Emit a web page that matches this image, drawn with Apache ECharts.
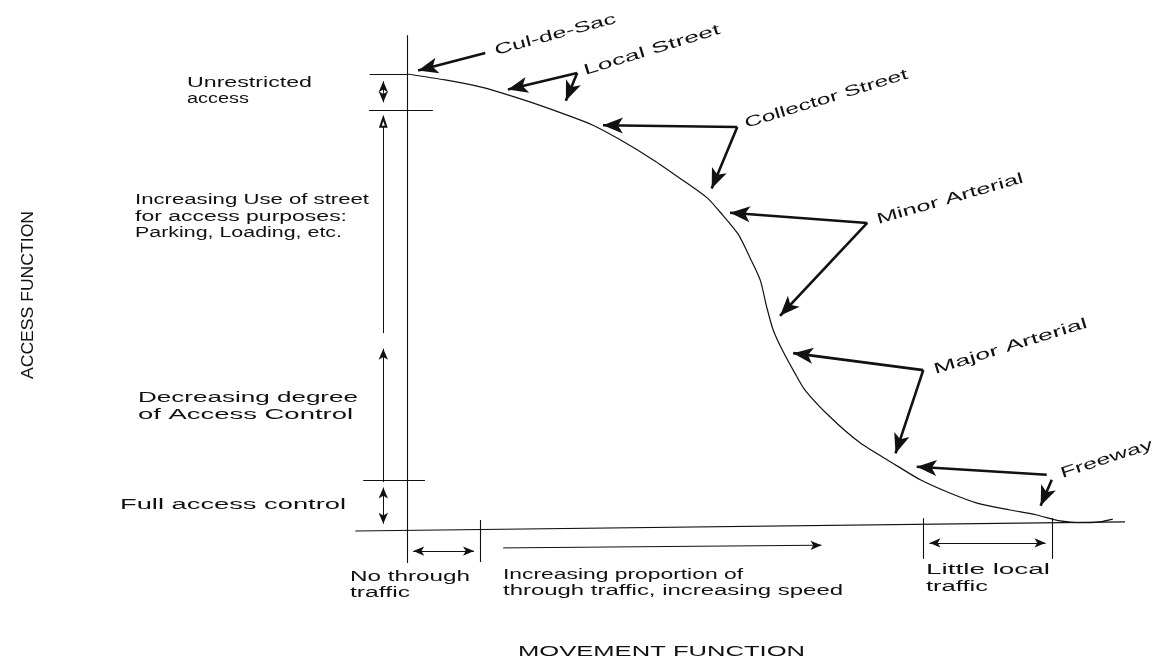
<!DOCTYPE html>
<html>
<head>
<meta charset="utf-8">
<script src="https://cdn.jsdelivr.net/npm/echarts@6/dist/echarts.min.js"></script>
<style>
  html, body { margin: 0; background: #fff; }
  #chart { width: 1160px; height: 663px; }
</style>
</head>
<body>
<div id="chart"></div>
<script>
// access function (y, %) against movement function (x, %)
var movement = [0, 5.3, 10.2, 12.7, 17.1, 22.3, 25.9, 29.7, 34.3, 38.0, 41.8, 43.6, 46.1, 47.8, 49.2, 50.1,
  51.0, 52.4, 54.0, 55.4, 58.9, 63.1, 67.6, 71.5, 75.6, 79.4, 84.0, 87.7, 91.0, 93.7, 96.5, 98.3]
var access = [100, 98.7, 97.2, 96.1, 93.9, 91.0, 88.8, 85.6, 81.2, 77.2, 72.9, 69.8, 65.0, 59.7, 54.9, 49.0,
  44.0, 39.2, 34.6, 30.9, 25.0, 19.3, 14.9, 11.2, 8.3, 6.1, 4.6, 3.5, 2.2, 1.8, 2.0, 2.6]

var roadClasses = ['Cul-de-Sac', 'Local Street', 'Collector Street', 'Minor Arterial', 'Major Arterial', 'Freeway']
var accessBands = ['Unrestricted\naccess', 'Increasing Use of street\nfor access purposes:\nParking, Loading, etc.',
  'Decreasing degree\nof Access Control', 'Full access control']
var movementBands = ['No through\ntraffic', 'Increasing proportion of\nthrough traffic, increasing speed', 'Little local\ntraffic']
var axisNames = ['MOVEMENT FUNCTION', 'ACCESS FUNCTION']

// layout: grid maps x -10..100 and y -10..110
var grid = {left: 335.2, right: 35, top: 28.3, bottom: 86.3}
var sx = (1160 - grid.left - grid.right) / 110
var sy = (663 - grid.top - grid.bottom) / 120

// pointer lines from each label to the curve (one entry per road class)
var pointers = [
  [[[10.9, 104.6], [0.2, 100.2]]],
  [[[23.7, 100.2], [12.7, 96.1]], [[23.7, 100.2], [21.6, 92.1]]],
  [[[46.0, 88.4], [25.9, 88.8]], [[46.0, 88.4], [41.9, 72.9]]],
  [[[64.1, 67.4], [43.6, 69.8]], [[64.1, 67.4], [51.0, 45.5]]],
  [[[71.9, 35.2], [52.4, 39.2]], [[71.9, 35.2], [67.6, 14.9]]],
  [[[89.1, 12.3], [69.6, 14.2]], [[89.8, 11.2], [87.7, 3.5]]]
]

// pull an arrow end back by half the head so the tip lands on the point
function pull (a, b, d) {
  var dx = (b[0] - a[0]) * sx
  var dy = (b[1] - a[1]) * sy
  var len = Math.sqrt(dx * dx + dy * dy)
  return [b[0] - dx / len * d / sx, b[1] - dy / len * d / sy]
}

function seg (a, b, head0, head1, size) {
  var p0 = head0 ? pull(b, a, size[1] / 2) : a
  var p1 = head1 ? pull(a, b, size[1] / 2) : b
  return [
    {coord: p0, symbol: head0 || 'none', symbolSize: size},
    {coord: p1, symbol: head1 || 'none', symbolSize: size}
  ]
}

var plain = [
  [{coord: [0, 108.5]}, {coord: [0, -7.0]}],
  [{coord: [-7.2, 0]}, {coord: [100, 2.0]}],
  [{coord: [-5.2, 100]}, {coord: [0, 100]}],
  [{coord: [-5.3, 92.1]}, {coord: [3.6, 92.1]}],
  [{coord: [-6.1, 11.2]}, {coord: [2.5, 11.2]}],
  [{coord: [10.2, 2.4]}, {coord: [10.2, -6.8]}],
  [{coord: [71.9, 2.8]}, {coord: [71.9, -6.1]}],
  [{coord: [89.8, 2.8]}, {coord: [89.8, -6.1]}]
]

var small = [7, 11]
var dims = [
  seg([-3.3, 96.0], [-3.3, 99.6], null, 'arrow', small),
  seg([-3.3, 96.0], [-3.3, 92.6], null, 'arrow', small),
  seg([-3.3, 43.3], [-3.3, 90.4], null, 'emptyTriangle', [6, 9]),
  seg([-3.3, 10.7], [-3.3, 41.1], null, 'arrow', small),
  seg([-3.3, 10.7], [-3.3, 0.4], 'arrow', 'arrow', small),
  seg([0.1, -4.4], [10.1, -4.4], 'arrow', 'arrow', small),
  seg([13.4, -3.7], [58.5, -3.1], null, 'arrow', small),
  seg([72.0, -2.6], [89.7, -2.6], 'arrow', 'arrow', small)
]

var big = [12, 20]
var pointerLines = []
pointers.forEach(function (group) {
  group.forEach(function (p) {
    pointerLines.push(seg(p[0], p[1], null, 'arrow', big))
  })
})

var measure = document.createElement('canvas').getContext('2d')
var FONT = '"Liberation Sans", Arial, sans-serif'

// text labels stretched to the tracked width of the scanned lettering
function label (text, x, y, width, size, rot, family, align) {
  family = family || FONT
  measure.font = size + 'px ' + family
  var w = measure.measureText(text).width
  return {
    type: 'text',
    x: x,
    y: y,
    rotation: (rot || 0) * Math.PI / 180,
    scaleX: width / w,
    silent: true,
    style: {
      text: text,
      font: size + 'px ' + family,
      fill: '#111',
      align: align || 'left',
      textAlign: align || 'left',
      verticalAlign: 'middle',
      textVerticalAlign: 'middle'
    }
  }
}

function lines (block) {
  return block.split('\n')
}

var texts = [
  label(roadClasses[0], 495, 51, 125, 15, 15),
  label(roadClasses[1], 584, 71, 142, 15, 17),
  label(roadClasses[2], 745, 124, 170, 15, 17),
  label(roadClasses[3], 877, 220, 152, 15, 16),
  label(roadClasses[4], 934, 370, 160, 15, 17),
  label(roadClasses[5], 1061, 474, 96, 15, 18),

  label(lines(accessBands[0])[0], 187, 83, 125, 14),
  label(lines(accessBands[0])[1], 187, 99, 62, 14),
  label(lines(accessBands[1])[0], 135, 200, 234, 14),
  label(lines(accessBands[1])[1], 135, 217, 212, 14),
  label(lines(accessBands[1])[2], 135, 233, 207, 14),
  label(lines(accessBands[2])[0], 138, 398, 220, 14),
  label(lines(accessBands[2])[1], 138, 415, 215, 14),
  label(accessBands[3], 120, 505, 226, 14),

  label(lines(movementBands[0])[0], 350, 577, 120, 14),
  label(lines(movementBands[0])[1], 350, 593, 60, 14),
  label(lines(movementBands[1])[0], 503, 575, 240, 14),
  label(lines(movementBands[1])[1], 503, 591, 340, 14),
  label(lines(movementBands[2])[0], 926, 570, 124, 14),
  label(lines(movementBands[2])[1], 926, 587, 62, 14),

  label(axisNames[0], 518, 652, 287, 15),
  label(axisNames[1], 28, 295, 168, 17, 90, '"Liberation Sans Narrow", "Liberation Sans", sans-serif', 'center')
]

var chart = echarts.init(document.getElementById('chart'))

var markBase = {
  silent: true,
  animation: false,
  label: {show: false},
  emphasis: {disabled: true},
  symbol: ['none', 'none']
}

chart.setOption({
  animation: false,
  backgroundColor: '#fff',
  grid: grid,
  xAxis: {type: 'value', min: -10, max: 100, show: false},
  yAxis: {type: 'value', min: -10, max: 110, show: false},
  graphic: {elements: texts},
  series: [
    {
      name: 'curve',
      type: 'line',
      data: movement.map(function (x, i) { return [x, access[i]] }),
      showSymbol: false,
      smooth: 0.25,
      clip: false,
      silent: true,
      lineStyle: {color: '#111', width: 1.2}
    },
    {
      name: 'frame',
      type: 'line',
      data: [],
      clip: false,
      markLine: Object.assign({}, markBase, {
        lineStyle: {color: '#111', width: 1.1, type: 'solid'},
        data: plain
      })
    },
    {
      name: 'dims',
      type: 'line',
      data: [],
      clip: false,
      markLine: Object.assign({}, markBase, {
        lineStyle: {color: '#111', width: 1, type: 'solid'},
        itemStyle: {color: '#111'},
        data: dims
      })
    },
    {
      name: 'pointers',
      type: 'line',
      data: [],
      clip: false,
      markLine: Object.assign({}, markBase, {
        lineStyle: {color: '#111', width: 2.6, type: 'solid'},
        itemStyle: {color: '#111'},
        data: pointerLines
      })
    }
  ]
})
</script>
</body>
</html>
